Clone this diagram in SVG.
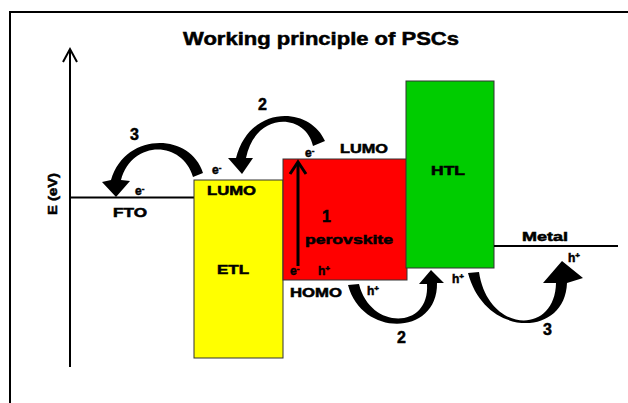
<svg xmlns="http://www.w3.org/2000/svg" width="628" height="403" viewBox="0 0 628 403">
<style>
.t{font-family:"Liberation Sans",Arial,sans-serif;font-weight:bold;fill:#000;stroke:#000;stroke-width:0.5}
.s{font-size:12px}
.n{font-size:16px}
.box{stroke:#333;stroke-width:1}
.ln{stroke:#000;stroke-width:2;fill:none}
.arr{fill:#000}
</style>
<rect width="628" height="403" fill="#fff"/>
<path class="ln" d="M10,403 L10,12 L628,12"/>
<text class="t" x="183" y="45" font-size="18" textLength="276" lengthAdjust="spacingAndGlyphs" stroke-width="0.7">Working principle of PSCs</text>
<g id="axis">
<path class="ln" d="M70,367 L70,50"/>
<path class="ln" d="M63,62 L70,49 L77,62"/>
<text class="t s" transform="translate(57,194) rotate(-90)" text-anchor="middle" textLength="42" lengthAdjust="spacingAndGlyphs">E (eV)</text>
</g>
<g id="fto">
<path class="ln" d="M71,197.5 L194,197.5"/>
<text class="t s" x="113" y="217" textLength="34" lengthAdjust="spacingAndGlyphs">FTO</text>
<text class="t s" x="135" y="195">e<tspan font-size="8" dy="-4">-</tspan></text>
</g>
<g id="etl">
<rect class="box" x="194" y="180" width="89" height="178" fill="#ffff00"/>
<text class="t s" x="207" y="195" textLength="49" lengthAdjust="spacingAndGlyphs">LUMO</text>
<text class="t s" x="217" y="274" textLength="32" lengthAdjust="spacingAndGlyphs">ETL</text>
<text class="t s" x="212" y="174">e<tspan font-size="8" dy="-4">-</tspan></text>
</g>
<g id="perovskite">
<rect class="box" x="283" y="159" width="124" height="121" fill="#ff0000"/>
<text class="t s" x="340" y="153" textLength="48" lengthAdjust="spacingAndGlyphs">LUMO</text>
<text class="t s" x="305" y="157">e<tspan font-size="8" dy="-4">-</tspan></text>
<text class="t n" x="322" y="222">1</text>
<text class="t s" x="305" y="244" textLength="88" lengthAdjust="spacingAndGlyphs">perovskite</text>
<text class="t s" x="290" y="275">e<tspan font-size="8" dy="-4">-</tspan></text>
<text class="t s" x="318" y="275">h<tspan font-size="8" dy="-4">+</tspan></text>
<text class="t s" x="290" y="297" textLength="52" lengthAdjust="spacingAndGlyphs">HOMO</text>
<text class="t s" x="367" y="295">h<tspan font-size="8" dy="-4">+</tspan></text>
</g>
<g id="htl">
<rect class="box" x="406" y="81" width="88" height="187" fill="#00cc00"/>
<text class="t s" x="431" y="175" textLength="34" lengthAdjust="spacingAndGlyphs">HTL</text>
<text class="t s" x="452" y="283">h<tspan font-size="8" dy="-4">+</tspan></text>
</g>
<g id="metal">
<path class="ln" d="M494,246 L618,246"/>
<text class="t s" x="522" y="241" textLength="46" lengthAdjust="spacingAndGlyphs">Metal</text>
<text class="t s" x="568" y="262">h<tspan font-size="8" dy="-4">+</tspan></text>
</g>
<g id="connectors">
<path d="M298,266 L298,163" stroke="#000" stroke-width="3" fill="none"/>
<path d="M290,174 L298,162 L306,174" stroke="#000" stroke-width="3" fill="none"/>
<path class="arr" d="M203,173 C190,132 125,132 111,180 L102,182 L116,197 L130,181 L121,180 C132,140 182,140 193,177 Z"/>
<path class="arr" d="M325,141 C310,106 250,104 236,158 L228,158 L242,174 L253,158 L246,158 C255,112 305,112 313,146 Z"/>
<path class="arr" d="M348,285 C362,338 438,336 437,283 L444,283 L431,270 L419,284 L427,284 C430,330 370,330 359,284 Z"/>
<path class="arr" d="M468,273 C485,338 565,338 567,283 L583,278 L562,261 L543,283 L556,283 C555,336 488,333 479,272 Z"/>
<text class="t n" x="130" y="140">3</text>
<text class="t n" x="258" y="110">2</text>
<text class="t n" x="397" y="343">2</text>
<text class="t n" x="543" y="335">3</text>
</g>
</svg>
